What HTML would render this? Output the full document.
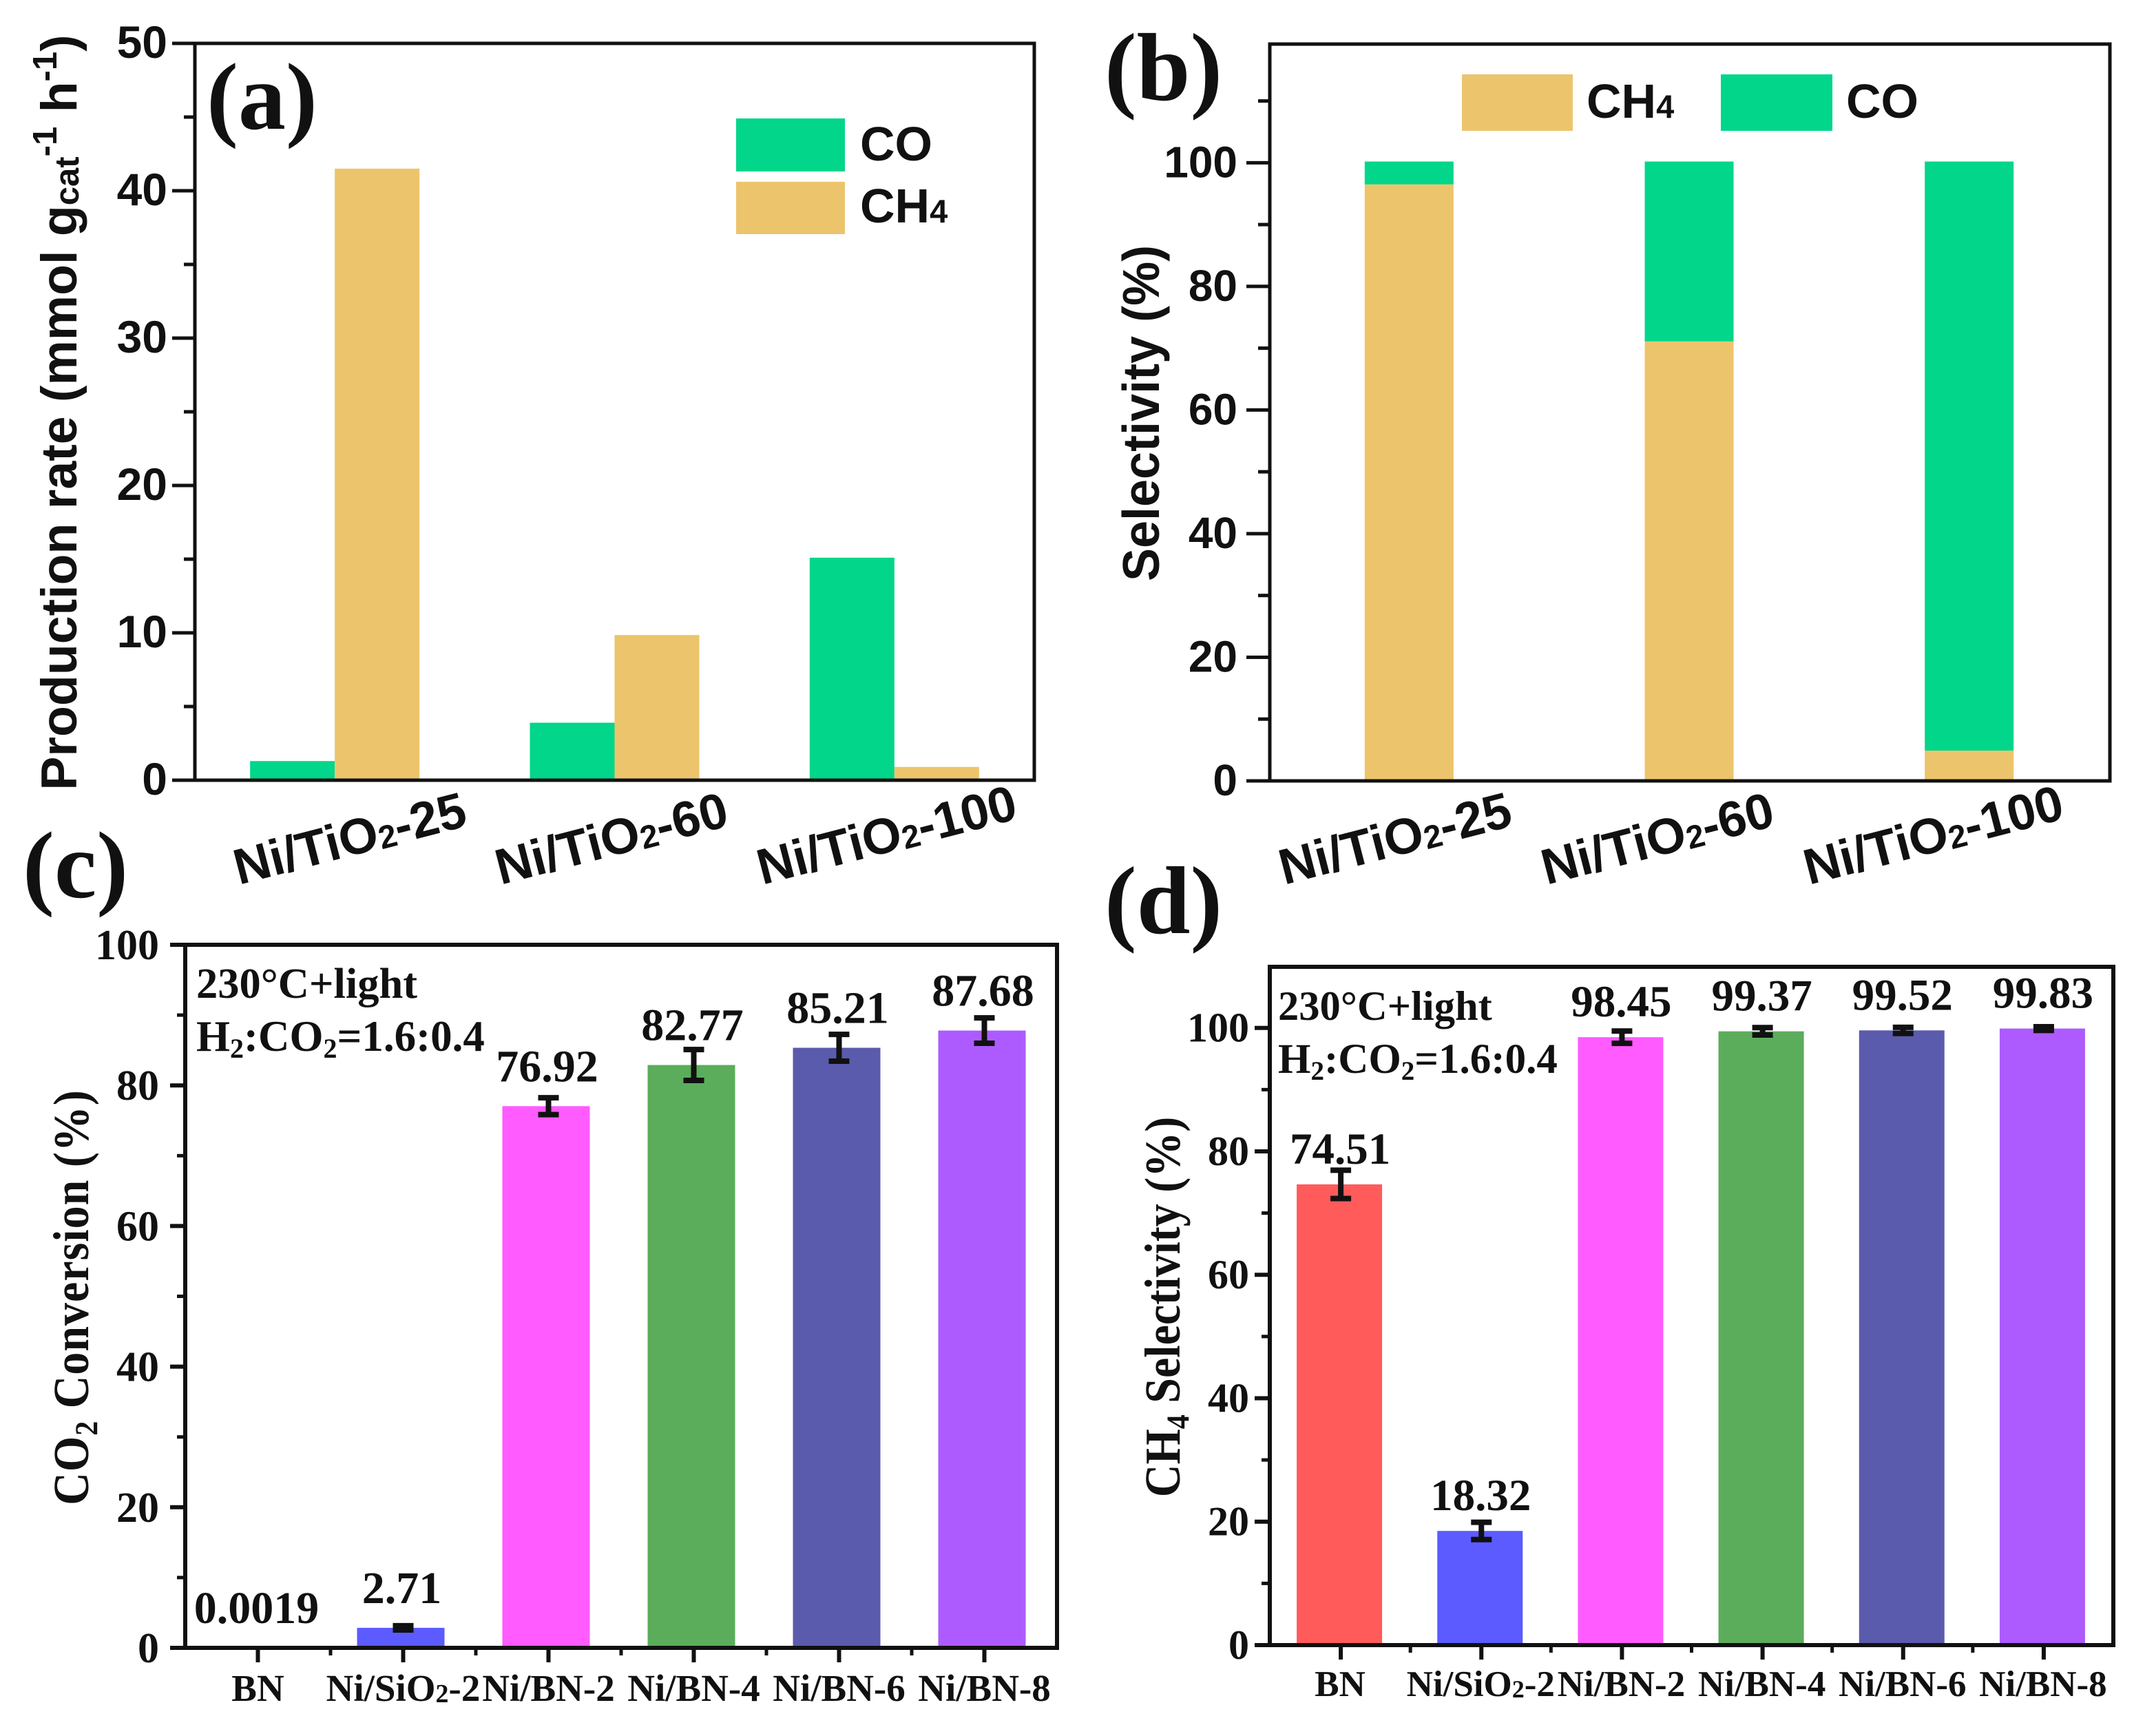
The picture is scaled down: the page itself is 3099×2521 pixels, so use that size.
<!DOCTYPE html>
<html lang="en">
<head>
<meta charset="utf-8">
<title>Catalyst performance charts</title>
<style>
html,body{margin:0;padding:0;background:#fff;}
svg{display:block;}
.ar{font-family:"Liberation Sans",Arial,sans-serif;font-weight:700;fill:#111;}
.tm{font-family:"Liberation Serif","Times New Roman",serif;font-weight:700;fill:#111;}
</style>
</head>
<body>
<svg id="fig" xmlns="http://www.w3.org/2000/svg" width="3099" height="2521" viewBox="0 0 3099 2521">
  <rect x="0" y="0" width="3099" height="2521" fill="#fff"/>
  <g id="pa"></g>
  <g id="pb"></g>
  <g id="pc"></g>
  <g id="pd"></g>

  <text class="tm" x="300" y="187" font-size="138">(a)</text>
  <text class="tm" x="1604" y="145" font-size="140">(b)</text>
  <text class="tm" x="33" y="1303" font-size="138">(c)</text>
  <text class="tm" x="1604" y="1355" font-size="140">(d)</text>

  <text class="ar" transform="translate(111,599) rotate(-90)" text-anchor="middle" font-size="73.5">Production rate (mmol g<tspan font-size="49" dy="3">cat</tspan><tspan font-size="49" dy="-32">-1</tspan><tspan dy="29"> h</tspan><tspan font-size="49" dy="-29">-1</tspan><tspan dy="29">)</tspan></text>
  <text class="ar" transform="translate(1683,600) rotate(-90) scale(1,1.05)" text-anchor="middle" font-size="72">Selectivity (%)</text>
  <text class="tm" transform="translate(128,1884) rotate(-90) scale(1,1.1)" text-anchor="middle" font-size="66" letter-spacing="1">CO<tspan font-size="42" dy="12">2</tspan><tspan dy="-12"> Conversion (%)</tspan></text>
  <text class="tm" transform="translate(1713,1898) rotate(-90) scale(1,1.1)" text-anchor="middle" font-size="66">CH<tspan font-size="42" dy="12">4</tspan><tspan dy="-12"> Selectivity (%)</tspan></text>

  <g>
    <rect x="1069" y="172" width="158" height="77" fill="#02D68A"/>
    <rect x="1069" y="264" width="158" height="76" fill="#ECC46C"/>
    <text class="ar" x="1249" y="233" font-size="70">CO</text>
    <text class="ar" x="1249" y="323" font-size="70">CH<tspan font-size="47">4</tspan></text>
  </g>
  <g>
    <rect x="2123" y="108" width="161" height="82" fill="#ECC46C"/>
    <text class="ar" x="2304" y="171" font-size="70">CH<tspan font-size="47">4</tspan></text>
    <rect x="2499" y="108" width="162" height="82" fill="#02D68A"/>
    <text class="ar" x="2681" y="171" font-size="70">CO</text>
  </g>

  <text class="tm" x="285" y="1449" font-size="62.5">230°C+light</text>
  <text class="tm" x="285" y="1526" font-size="63">H<tspan font-size="40" dy="10">2</tspan><tspan dy="-10">:CO</tspan><tspan font-size="40" dy="10">2</tspan><tspan dy="-10">=1.6:0.4</tspan></text>
  <text class="tm" x="1856" y="1481" font-size="60.5">230°C+light</text>
  <text class="tm" x="1856" y="1558" font-size="61">H<tspan font-size="39" dy="10">2</tspan><tspan dy="-10">:CO</tspan><tspan font-size="39" dy="10">2</tspan><tspan dy="-10">=1.6:0.4</tspan></text>
</svg>

<script>
// Panel (a): production rate
const categoriesA = ['Ni/TiO2-25', 'Ni/TiO2-60', 'Ni/TiO2-100'];
const coRateA = [1.3, 3.9, 15.1];
const ch4RateA = [41.5, 9.85, 0.9];
const yMajorTicksA = [0, 10, 20, 30, 40, 50];
const yMinorTicksA = [5, 15, 25, 35, 45];

// Panel (b): selectivity
const categoriesB = ['Ni/TiO2-25', 'Ni/TiO2-60', 'Ni/TiO2-100'];
const ch4SelB = [96.5, 71.1, 4.9];
const coSelB = [3.7, 29.1, 95.3];
const yMajorTicksB = [0, 20, 40, 60, 80, 100];
const yMinorTicksB = [10, 30, 50, 70, 90, 110];

// Panel (c): CO2 conversion
const categoriesC = ['BN', 'Ni/SiO2-2', 'Ni/BN-2', 'Ni/BN-4', 'Ni/BN-6', 'Ni/BN-8'];
const conversionC = [0.0019, 2.85, 77.05, 82.9, 85.35, 87.8];
const conversionErrC = [0, 0.3, 1.2, 2.2, 1.9, 1.8];
const conversionLabelsC = ['0.0019', '2.71', '76.92', '82.77', '85.21', '87.68'];
const yMajorTicksC = [0, 20, 40, 60, 80, 100];
const yMinorTicksC = [10, 30, 50, 70, 90];

// Panel (d): CH4 selectivity
const categoriesD = ['BN', 'Ni/SiO2-2', 'Ni/BN-2', 'Ni/BN-4', 'Ni/BN-6', 'Ni/BN-8'];
const selectivityD = [74.65, 18.5, 98.5, 99.45, 99.6, 99.9];
const selectivityErrD = [2.3, 1.4, 1.0, 0.6, 0.5, 0.3];
const selectivityLabelsD = ['74.51', '18.32', '98.45', '99.37', '99.52', '99.83'];
const yMajorTicksD = [0, 20, 40, 60, 80, 100];
const yMinorTicksD = [10, 30, 50, 70, 90];

// Bar fill colours for panels (c) and (d)
const barColors = ['#FF5B5B', '#5B5BFF', '#FF5BFF', '#5BAD5B', '#5B5BAD', '#AD5BFF'];

const SVGNS = 'http://www.w3.org/2000/svg';
const INK = '#111';

function make(tag, parent, attrs) {
  const el = document.createElementNS(SVGNS, tag);
  for (const k in attrs) el.setAttribute(k, attrs[k]);
  parent.appendChild(el);
  return el;
}
function line(parent, x1, y1, x2, y2, w) {
  return make('line', parent, { x1, y1, x2, y2, stroke: INK, 'stroke-width': w });
}
function bar(parent, xc, w, yTop, yBottom, fill) {
  return make('rect', parent, { x: xc - w / 2, y: yTop, width: w, height: Math.max(0, yBottom - yTop), fill });
}
function label(parent, cls, size, x, y, anchor, text) {
  const t = make('text', parent, { class: cls, 'font-size': size, x, y, 'text-anchor': anchor });
  t.textContent = text;
  return t;
}
// category label with a small subscript 2 after "TiO"/"SiO"
function subLabel(parent, cls, size, subSize, subDy, attrs, text) {
  const t = make('text', parent, Object.assign({ class: cls, 'font-size': size, 'text-anchor': 'middle' }, attrs));
  const i = text.indexOf('O2');
  if (i < 0) { t.textContent = text; return t; }
  t.appendChild(document.createTextNode(text.slice(0, i + 1)));
  const s = make('tspan', t, { 'font-size': subSize, dy: subDy });
  s.textContent = '2';
  const r = make('tspan', t, { dy: -subDy });
  r.textContent = text.slice(i + 2);
  return t;
}

// Axis geometry (pixel frames live here, never in the data arrays)
const frameA = { l: 283, r: 1502, t: 63, b: 1133, max: 50 };
const frameB = { l: 1844, r: 3064, t: 64, b: 1134, max: 119.2 };
const frameC = { l: 269, r: 1535, t: 1372, b: 2393, max: 100 };
const frameD = { l: 1844, r: 3069, t: 1404, b: 2389, max: 109.9 };

function yScale(f) { return v => f.b - (v / f.max) * (f.b - f.t); }
function xCenter(f, n) { return i => f.l + (f.r - f.l) * (i + 0.5) / n; }

/* ---------- Panel (a) ---------- */
(function () {
  const g = document.getElementById('pa');
  const y = yScale(frameA), x = xCenter(frameA, categoriesA.length), bw = 123;
  categoriesA.forEach((c, i) => {
    const r1 = bar(g, x(i) - bw / 2, bw, y(coRateA[i]), y(0), '#02D68A');
    
    
    const r2 = bar(g, x(i) + bw / 2, bw, y(ch4RateA[i]), y(0), '#ECC46C');
    
    
    const t = subLabel(g, 'ar', 73, 47, 2, { 'text-anchor': 'start', transform: 'translate(' + (347 + i * 380) + ',1285) rotate(-14.5)' }, c);
    
    
  });
  const fr = make('rect', g, { x: frameA.l, y: frameA.t, width: frameA.r - frameA.l, height: frameA.b - frameA.t, fill: 'none', stroke: INK, 'stroke-width': 5 });
  
  
  yMajorTicksA.forEach(v => {
    const tk = line(g, frameA.l - 33, y(v), frameA.l, y(v), 5);
    
    
    const t = label(g, 'ar', 66, 243, y(v) + 21, 'end', String(v));
    
    
  });
  yMinorTicksA.forEach(v => {
    const tk = line(g, frameA.l - 16, y(v), frameA.l, y(v), 5);
    
    
  });
})();

/* ---------- Panel (b) ---------- */
(function () {
  const g = document.getElementById('pb');
  const y = yScale(frameB), x = xCenter(frameB, categoriesB.length), bw = 129;
  categoriesB.forEach((c, i) => {
    const r1 = bar(g, x(i) - 1, bw, y(ch4SelB[i]), y(0), '#ECC46C');
    
    
    const r2 = bar(g, x(i) - 1, bw, y(ch4SelB[i] + coSelB[i]), y(ch4SelB[i]), '#02D68A');
    
    
    const t = subLabel(g, 'ar', 73, 47, 2, { 'text-anchor': 'start', transform: 'translate(' + (1865 + i * 381) + ',1285) rotate(-14.5)' }, c);
    
    
  });
  const fr = make('rect', g, { x: frameB.l, y: frameB.t, width: frameB.r - frameB.l, height: frameB.b - frameB.t, fill: 'none', stroke: INK, 'stroke-width': 5 });
  
  
  yMajorTicksB.forEach(v => {
    const tk = line(g, frameB.l - 34, y(v), frameB.l, y(v), 5);
    
    
    const t = label(g, 'ar', 64, 1797, y(v) + 21, 'end', String(v));
    
    
  });
  yMinorTicksB.forEach(v => {
    const tk = line(g, frameB.l - 17, y(v), frameB.l, y(v), 5);
    
    
  });
})();

/* ---------- Panels (c) and (d) ---------- */
function drawErrorBar(g, xc, yHi, yLo) {
  const a = line(g, xc, yHi, xc, yLo, 8);
  
  
  const b = line(g, xc - 15, yHi, xc + 15, yHi, 8);
  
  
  const d = line(g, xc - 15, yLo, xc + 15, yLo, 8);
  
  
}

(function () {
  const g = document.getElementById('pc');
  const y = yScale(frameC), x = xCenter(frameC, categoriesC.length), bw = 127;
  categoriesC.forEach((c, i) => {
    const r = bar(g, x(i) - 3.5, bw, y(conversionC[i]), y(0), barColors[i]);
    
    
    if (conversionErrC[i] > 0) {
      drawErrorBar(g, x(i), y(conversionC[i] + conversionErrC[i]), y(conversionC[i] - conversionErrC[i]));
    }
    const v = label(g, 'tm', 66, x(i) - 2, y(conversionC[i]) - 36, 'middle', conversionLabelsC[i]);
    
    
    const t = subLabel(g, 'tm', 55, 38, 2, { x: x(i), y: 2470 }, c);
    
    
    const tk = line(g, x(i), frameC.b, x(i), frameC.b + 21, 6);
    
    
    if (i > 0) {
      const m = line(g, x(i) - (x(1) - x(0)) / 2, frameC.b, x(i) - (x(1) - x(0)) / 2, frameC.b + 11, 5);
      
      
    }
  });
  const fr = make('rect', g, { x: frameC.l, y: frameC.t, width: frameC.r - frameC.l, height: frameC.b - frameC.t, fill: 'none', stroke: INK, 'stroke-width': 6 });
  
  
  yMajorTicksC.forEach(v => {
    const tk = line(g, frameC.l - 22, y(v), frameC.l, y(v), 6);
    
    
    const t = label(g, 'tm', 62, 231, y(v) + 21, 'end', String(v));
    
    
  });
  yMinorTicksC.forEach(v => {
    const tk = line(g, frameC.l - 12, y(v), frameC.l, y(v), 5);
    
    
  });
})();

(function () {
  const g = document.getElementById('pd');
  const y = yScale(frameD), x = xCenter(frameD, categoriesD.length), bw = 124;
  categoriesD.forEach((c, i) => {
    const r = bar(g, x(i) - 1, bw, y(selectivityD[i]), y(0), barColors[i]);
    
    
    drawErrorBar(g, x(i) + 1, y(selectivityD[i] + selectivityErrD[i]), y(selectivityD[i] - selectivityErrD[i]));
    const v = label(g, 'tm', 65, x(i), y(selectivityD[i]) - 30, 'middle', selectivityLabelsD[i]);
    
    
    const t = subLabel(g, 'tm', 53, 36, 2, { x: x(i), y: 2463 }, c);
    
    
    const tk = line(g, x(i) + 1, frameD.b, x(i) + 1, frameD.b + 21, 6);
    
    
    if (i > 0) {
      const m = line(g, x(i) - (x(1) - x(0)) / 2, frameD.b, x(i) - (x(1) - x(0)) / 2, frameD.b + 11, 5);
      
      
    }
  });
  const fr = make('rect', g, { x: frameD.l, y: frameD.t, width: frameD.r - frameD.l, height: frameD.b - frameD.t, fill: 'none', stroke: INK, 'stroke-width': 6 });
  
  
  yMajorTicksD.forEach(v => {
    const tk = line(g, frameD.l - 22, y(v), frameD.l, y(v), 6);
    
    
    const t = label(g, 'tm', 60, 1814, y(v) + 20, 'end', String(v));
    
    
  });
  yMinorTicksD.forEach(v => {
    const tk = line(g, frameD.l - 12, y(v), frameD.l, y(v), 5);
    
    
  });
})();
</script>
</body>
</html>
